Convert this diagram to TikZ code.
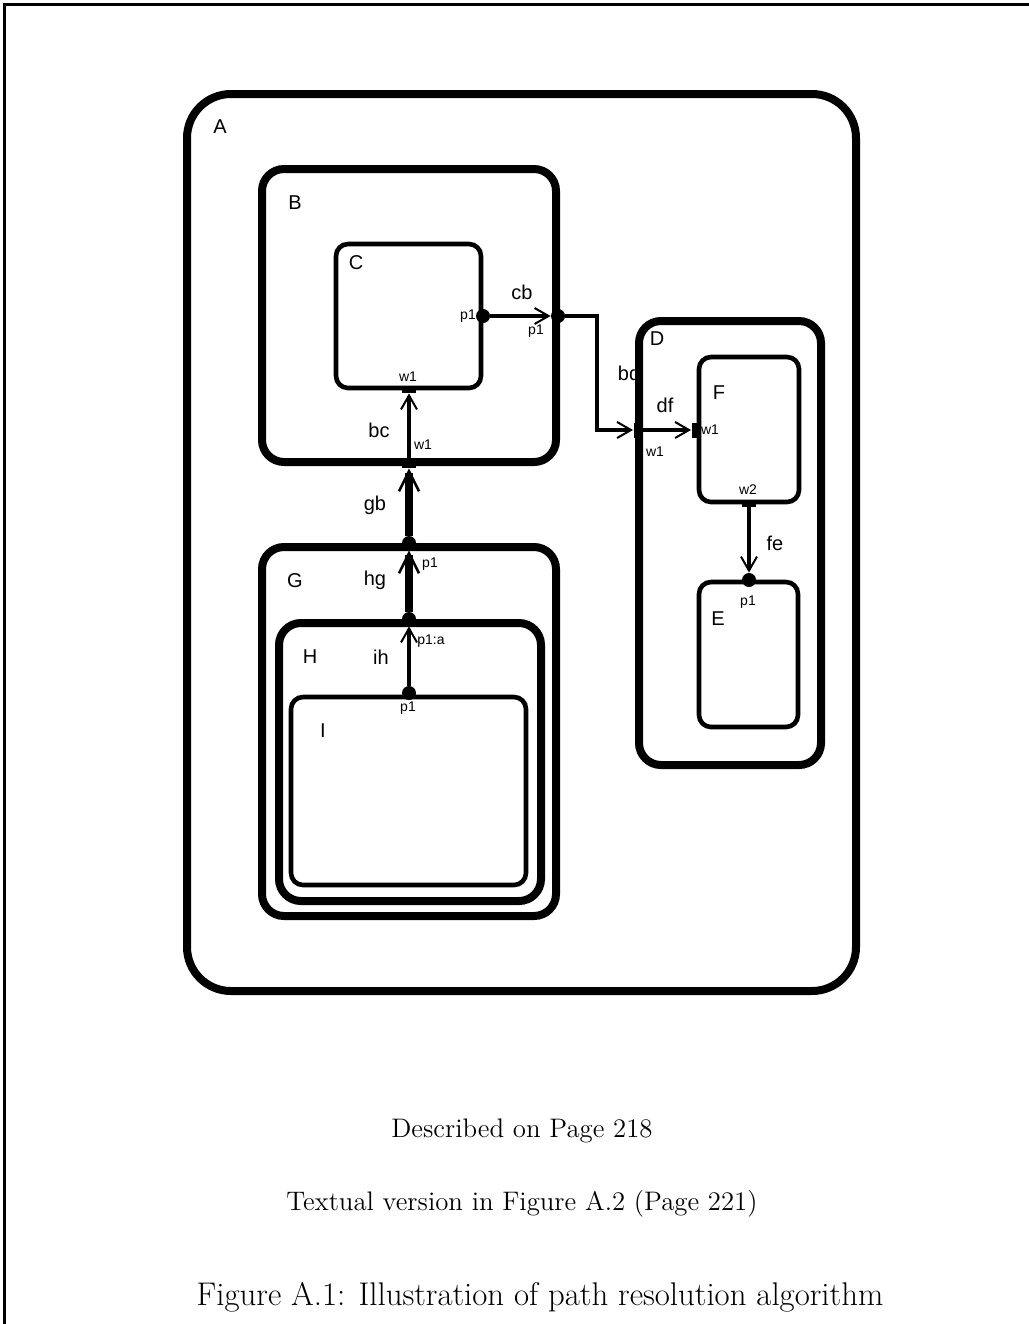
\documentclass[tikz,border=0pt]{standalone}
\usepackage{fontspec}
\newfontfamily\diagfont{Liberation Sans}
\usetikzlibrary{arrows.meta}

\begin{document}
\begin{tikzpicture}[x=0.5pt,y=-0.5pt,
  % Thick containers and thin leaf states
  statebox/.style={draw,rectangle,line width=4pt,rounded corners=11pt,inner sep=0pt},
  leafbox/.style={draw,rectangle,line width=2.3pt,rounded corners=6pt,inner sep=0pt},
  % Ports: filled dot, bar on a horizontal edge, bar on a vertical edge
  portdot/.style={circle,fill,inner sep=0pt,minimum size=7pt},
  portbarh/.style={rectangle,fill,inner sep=0pt,minimum width=7pt,minimum height=3pt},
  portbarv/.style={rectangle,fill,inner sep=0pt,minimum width=3.5pt,minimum height=7.5pt},
  % Texts
  boxlbl/.style={font=\diagfont\fontsize{10}{12}\selectfont,inner sep=0pt},
  edgelbl/.style={font=\diagfont\fontsize{10}{12}\selectfont,inner sep=0pt},
  portlbl/.style={font=\diagfont\fontsize{7}{8}\selectfont,inner sep=0pt},
  captxt/.style={font=\fontsize{13.4}{16}\selectfont,inner sep=0pt,anchor=base},
  % Connectors
  conn/.style={draw,line width=2.4pt,-{Straight Barb[length=7pt,width=8pt,line width=1pt]}},
  thickconn/.style={draw,line width=4pt,-{Straight Barb[length=10pt,width=10pt,line width=1.3pt]}}
]
  \useasboundingbox (0,0) rectangle (1029,1324);
  % ---- Page frame (left and top only) ----
  \draw[line width=1.5pt] (4.5,1324) -- (4.5,4.5) -- (1029,4.5);

  % ---- Label hidden partly under D ----
  \node[edgelbl] (lbd) at (629,373) {bd};

  % ---- States ----
  \node[statebox,rounded corners=22pt,minimum width=334.5pt,minimum height=448.5pt] (A) at (521.5,542.5) {};
  \node[statebox,minimum width=147pt,minimum height=146.5pt] (B) at (409,315.5) {};
  \node[leafbox,minimum width=72.5pt,minimum height=72pt]    (C) at (408.5,316) {};
  \node[statebox,minimum width=91pt,minimum height=222pt]    (D) at (730,543) {};
  \node[leafbox,minimum width=50pt,minimum height=72.5pt]    (F) at (749,429.5) {};
  \node[leafbox,minimum width=49.5pt,minimum height=72.5pt]  (E) at (748.5,654.5) {};
  \node[statebox,minimum width=147pt,minimum height=184.5pt] (G) at (409,731.5) {};
  \node[statebox,minimum width=131pt,minimum height=139pt]   (H) at (410,762) {};
  \node[leafbox,minimum width=117.5pt,minimum height=94pt]   (I) at (408.5,791) {};

  \node[boxlbl] (lA) at (220,127) {A};
  \node[boxlbl] (lB) at (295,203) {B};
  \node[boxlbl] (lC) at (356,263) {C};
  \node[boxlbl] (lD) at (657,339) {D};
  \node[boxlbl] (lF) at (719,393) {F};
  \node[boxlbl] (lE) at (718,619) {E};
  \node[boxlbl] (lG) at (295,581) {G};
  \node[boxlbl] (lH) at (310,657) {H};
  \node[boxlbl] (lI) at (323,731) {I};

  % ---- Ports ----
  \node[portdot]  (Cp1)  at (483,316) {};
  \node[portdot]  (Bp1)  at (558,316) {};
  \node[portbarh] (Cw1)  at (409,390) {};
  \node[portbarh] (Bw1)  at (409,465) {};
  \node[portbarv] (Dw1)  at (637,430) {};
  \node[portbarv] (Fw1)  at (695,430) {};
  \node[portbarh] (Fw2)  at (749,504) {};
  \node[portdot]  (Ep1)  at (749,580) {};
  \node[portdot]  (Gp1)  at (409,543) {};
  \node[portdot]  (Hp1a) at (409,619) {};
  \node[portdot]  (Ip1)  at (409,693) {};

  \node[portlbl] (lCp1)  at (468,316) {p1};
  \node[portlbl] (lBp1)  at (536,331) {p1};
  \node[portlbl] (lCw1)  at (408,377) {w1};
  \node[portlbl] (lBw1)  at (423,445) {w1};
  \node[portlbl] (lDw1)  at (655,452) {w1};
  \node[portlbl] (lFw1)  at (710,430) {w1};
  \node[portlbl] (lFw2)  at (748,490) {w2};
  \node[portlbl] (lEp1)  at (748,602) {p1};
  \node[portlbl] (lGp1)  at (430,564) {p1};
  \node[portlbl] (lHp1a) at (431,641) {p1:a};
  \node[portlbl] (lIp1)  at (408,708) {p1};

  % ---- Transitions ----
  \coordinate (bdturn) at (597,316);
  \draw[conn] (Cp1) -- (Bp1);
  \draw[conn] (Bp1) -- (bdturn) |- (Dw1);
  \draw[conn] (Dw1) -- (Fw1);
  \draw[conn] (Fw2) -- (Ep1);
  \draw[conn] (Bw1) -- (Cw1);
  \draw[thickconn] (Gp1)  -- (Bw1);
  \draw[thickconn] (Hp1a) -- (Gp1);
  \draw[conn] (Ip1) -- (Hp1a);

  \node[edgelbl] (lcb) at (522,292) {cb};
  \node[edgelbl] (ldf) at (665,405) {df};
  \node[edgelbl] (lfe) at (775,543) {fe};
  \node[edgelbl] (lbc) at (379,430) {bc};
  \node[edgelbl] (lgb) at (375,505) {gb};
  \node[edgelbl] (lhg) at (375,580) {hg};
  \node[edgelbl] (lih) at (381,657) {ih};

  % ---- Caption ----
  \node[captxt] (desc) at (522,1137) {Described on Page 218};
  \node[captxt] (text) at (522,1210) {Textual version in Figure A.2 (Page 221)};
  \node[captxt,font=\fontsize{16.4}{19}\selectfont] (cap) at (540,1305) {Figure A.1: Illustration of path resolution algorithm};
\end{tikzpicture}
\end{document}
